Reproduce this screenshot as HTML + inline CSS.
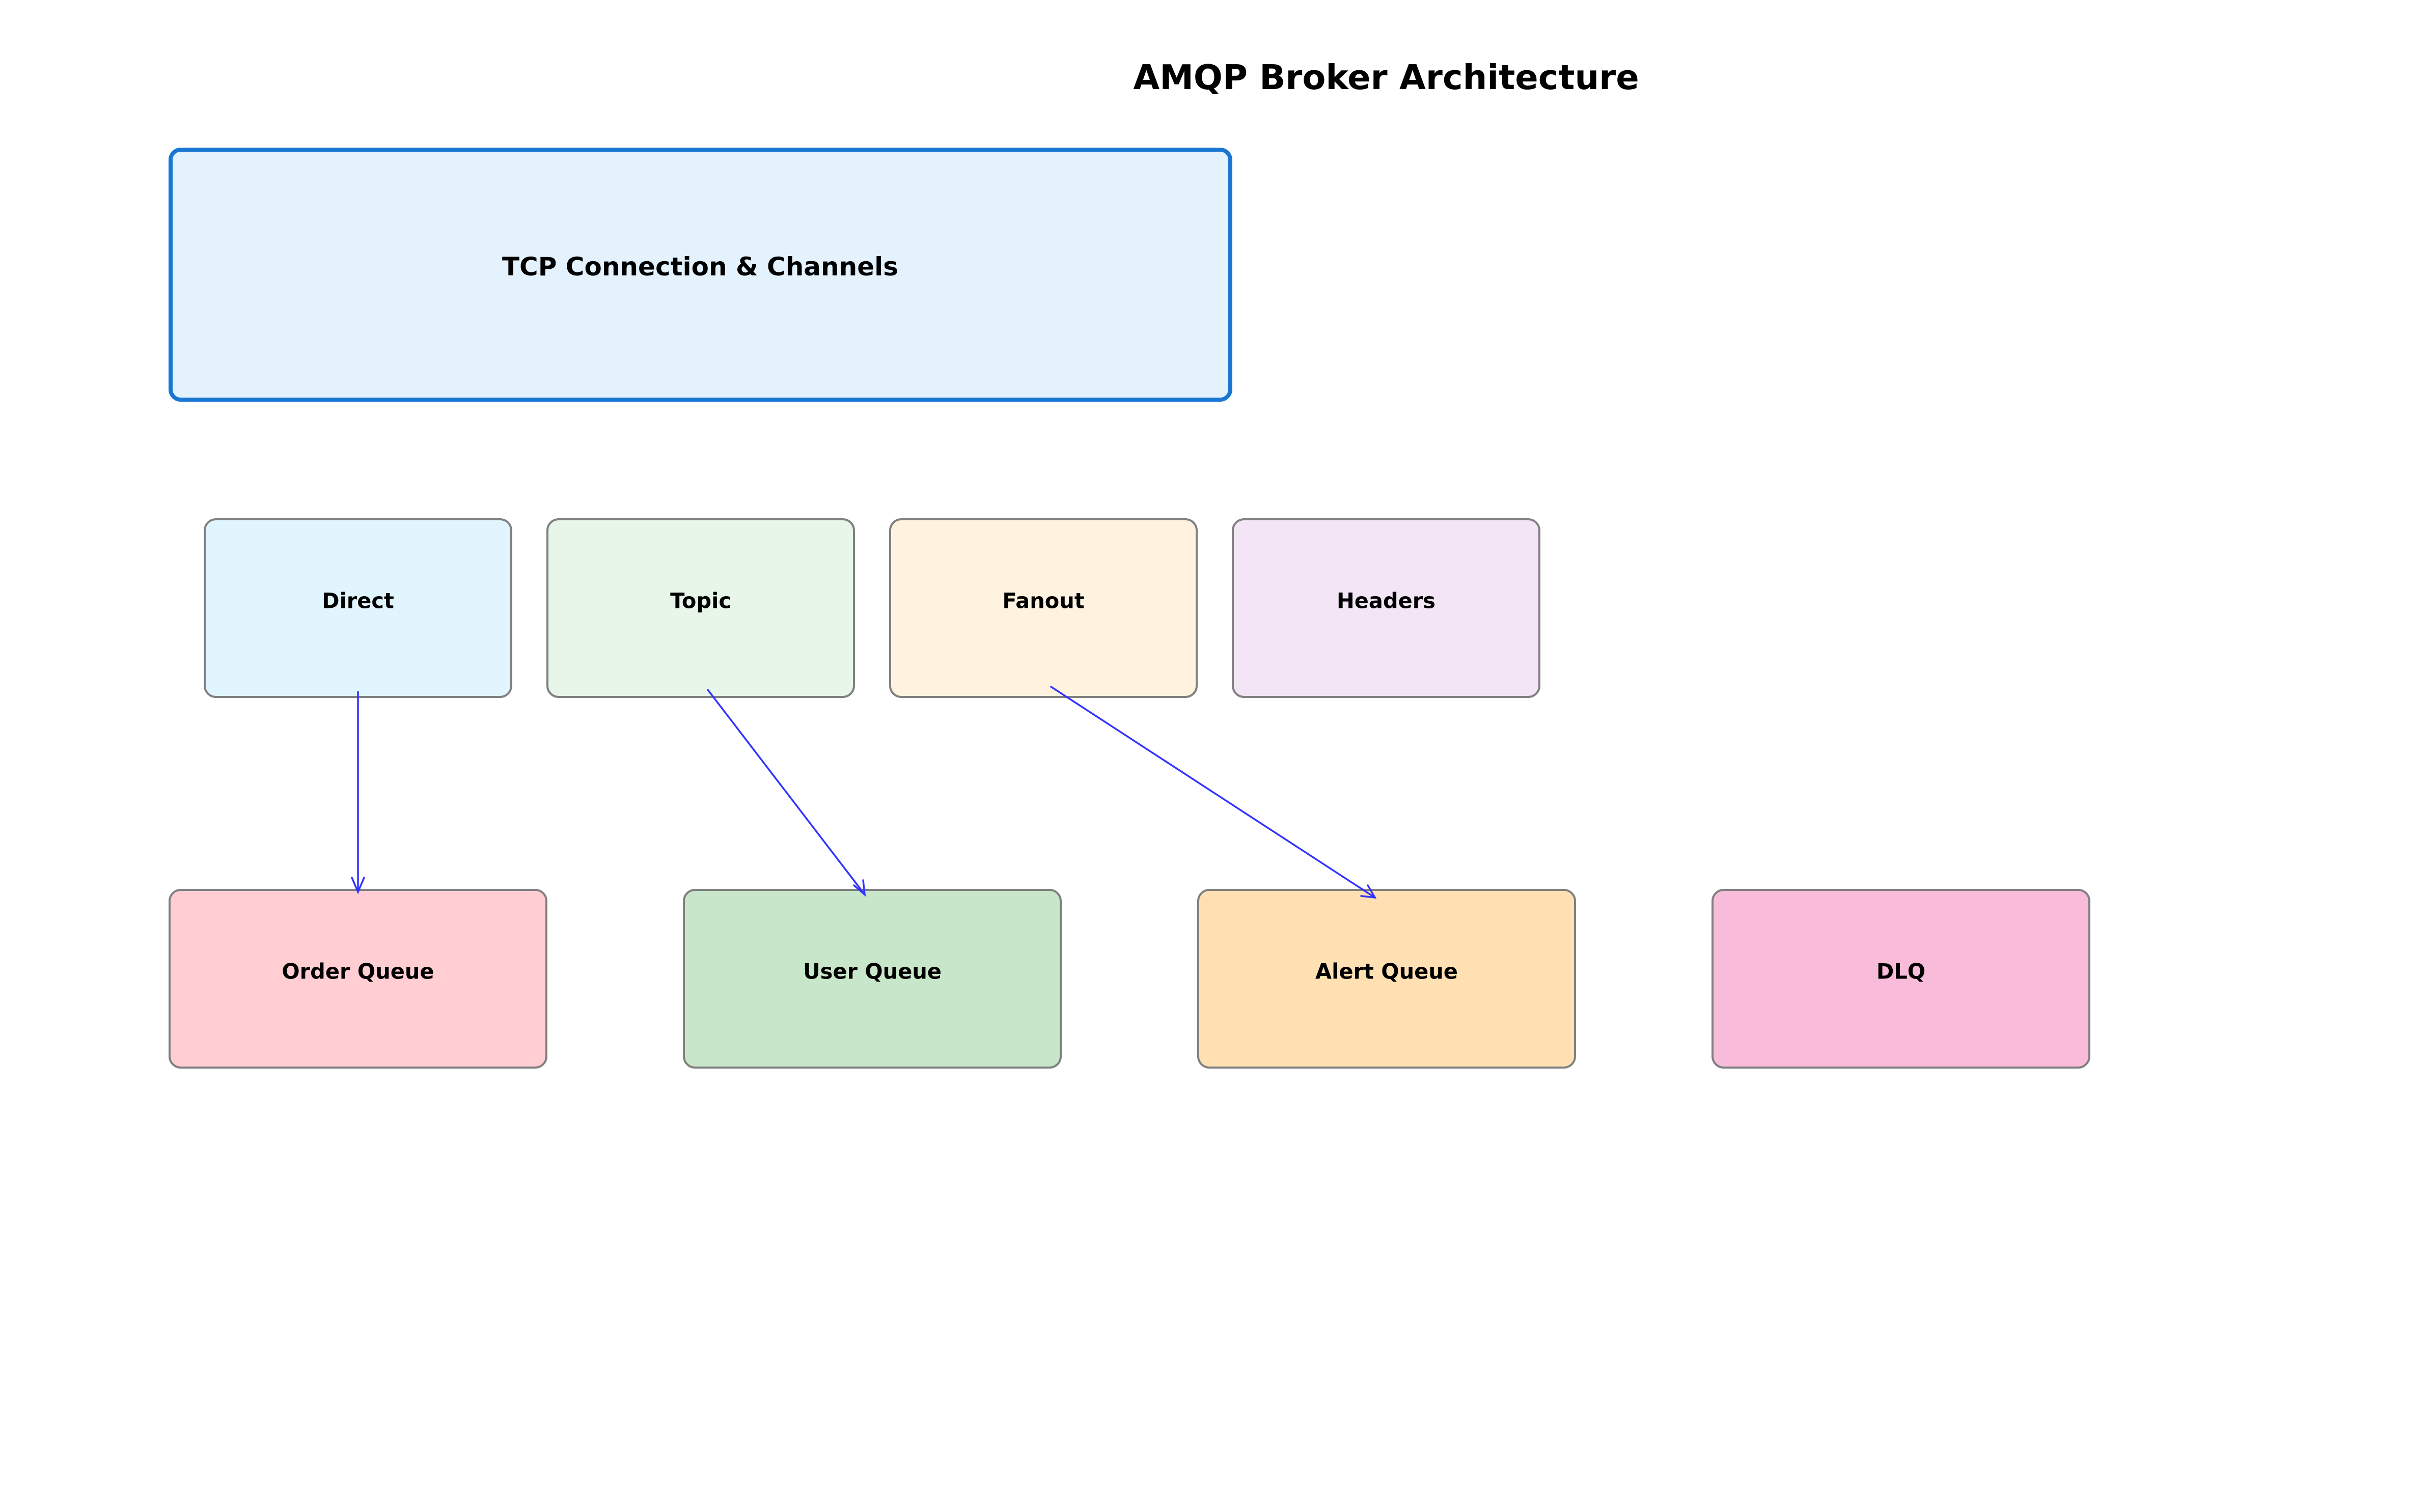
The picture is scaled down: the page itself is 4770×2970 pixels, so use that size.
<!DOCTYPE html>
<html><head><meta charset="utf-8"><style>
html,body{margin:0;padding:0;background:#fff;}
svg{display:block;}
text{font-family:"DejaVu Sans","Liberation Sans",sans-serif;font-weight:bold;fill:#000;text-anchor:middle;dominant-baseline:central;}
</style></head><body>
<svg width="4770" height="2970" viewBox="0 0 4770 2970" xmlns="http://www.w3.org/2000/svg">
<text x="2722" y="152" font-size="67">AMQP Broker Architecture</text>
<rect x="335" y="294" width="2081" height="491" rx="20" fill="#e3f2fd" stroke="#1976d2" stroke-width="8"/>
<text x="1375" y="524" font-size="50">TCP Connection &amp; Channels</text>
<g stroke="#808080" stroke-width="4">
<rect x="402" y="1020" width="602" height="349" rx="22" fill="#e1f5fe"/>
<rect x="1075" y="1020" width="602" height="349" rx="22" fill="#e8f5e9"/>
<rect x="1748" y="1020" width="602" height="349" rx="22" fill="#fff3e0"/>
<rect x="2421" y="1020" width="602" height="349" rx="22" fill="#f3e5f5"/>
<rect x="333" y="1748" width="740" height="349" rx="22" fill="#ffcdd2"/>
<rect x="1343" y="1748" width="740" height="349" rx="22" fill="#c8e6c9"/>
<rect x="2353" y="1748" width="740" height="349" rx="22" fill="#ffe0b2"/>
<rect x="3363" y="1748" width="740" height="349" rx="22" fill="#f8bbd9"/>
</g>
<text x="703" y="1180" font-size="41.5">Direct</text>
<text x="1376" y="1180" font-size="41.5">Topic</text>
<text x="2049" y="1180" font-size="41.5">Fanout</text>
<text x="2722" y="1180" font-size="41.5">Headers</text>
<text x="703" y="1908" font-size="41.5">Order Queue</text>
<text x="1713" y="1908" font-size="41.5">User Queue</text>
<text x="2723" y="1908" font-size="41.5">Alert Queue</text>
<text x="3733" y="1908" font-size="41.5">DLQ</text>
<g stroke="#3333ff" stroke-width="3.5" fill="none" stroke-linecap="round">
<line x1="703" y1="1359" x2="703" y2="1752"/>
<polyline points="691,1724 703,1752 715,1724"/>
<line x1="1390" y1="1355" x2="1698" y2="1757"/>
<polyline points="1677,1739 1698,1757 1695,1729"/>
<line x1="2064" y1="1349" x2="2700" y2="1763"/>
<polyline points="2673,1760 2700,1763 2686,1739"/>
</g>
</svg>
</body></html>
